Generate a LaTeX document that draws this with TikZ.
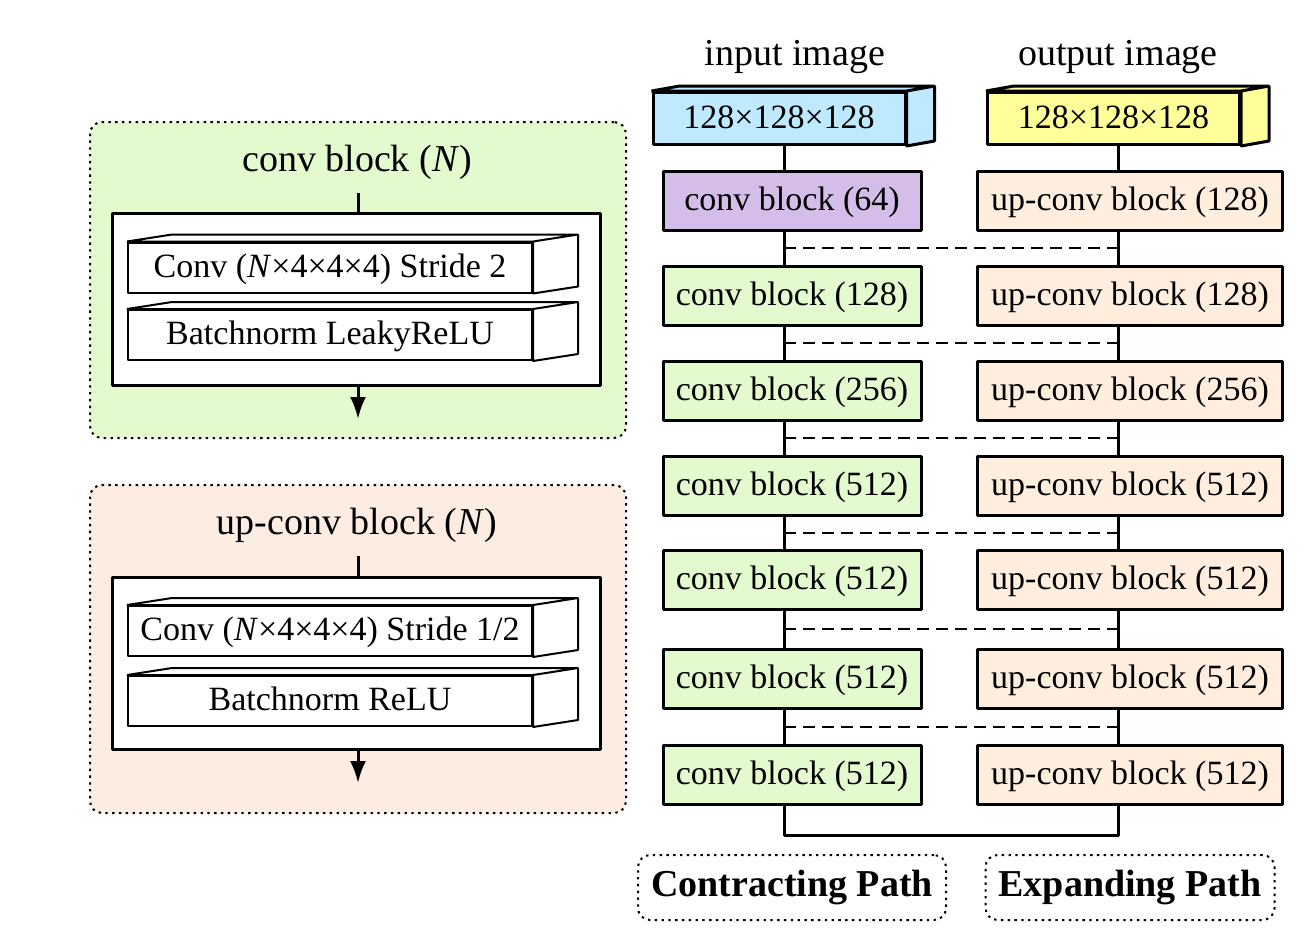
\documentclass[tikz,border=0pt]{standalone}
\usepackage{fontspec}
\setmainfont{Liberation Serif}
\usetikzlibrary{shapes, arrows, arrows.meta, positioning, calc}

\definecolor{inblue}{RGB}{190,233,255}
\definecolor{outyellow}{RGB}{255,255,153}
\definecolor{convpurple}{RGB}{213,189,233}
\definecolor{convgreen}{RGB}{226,250,205}
\definecolor{uppeach}{RGB}{255,238,222}
\definecolor{panelpeach}{RGB}{253,236,226}

\begin{document}
\begin{tikzpicture}[>={Latex[length=11pt,width=8pt]}, x=0.5pt, y=-0.5pt, line join=bevel]

\tikzstyle{block} = [draw, shape=rectangle, line width=1.5pt, minimum width=129pt, minimum height=29.5pt, inner sep=0pt, fill=convgreen, text height=12pt, text depth=2.5pt, font=\fontsize{17}{20}\selectfont]
\tikzstyle{upblock} = [block, minimum width=152.5pt, fill=uppeach]
\tikzstyle{imgbox} = [block, minimum width=126pt, minimum height=26pt]
\tikzstyle{layer} = [draw, shape=rectangle, line width=1pt, fill=white, minimum width=202pt, minimum height=25pt, inner sep=0pt, text height=12pt, text depth=2.5pt, font=\fontsize{17}{20}\selectfont]
\tikzstyle{wrap} = [draw, shape=rectangle, line width=1.5pt, fill=white, minimum width=244pt, minimum height=86pt]
\tikzstyle{panel} = [draw, rounded corners=6pt, dash pattern=on 1.2pt off 2.2pt, line width=1pt, inner sep=0pt]
\tikzstyle{pathlabel} = [panel, minimum height=32.5pt, font=\fontsize{19}{22}\selectfont\bfseries]
\tikzstyle{title} = [font=\fontsize{19}{22}\selectfont]
\tikzstyle{line} = [line width=1.5pt]
\tikzstyle{skip} = [line width=1pt, dash pattern=on 6pt off 3.5pt]

\useasboundingbox (0,0) rectangle (1310,949);

%Block Panels
\node [panel, fill=convgreen, minimum width=268pt, minimum height=158pt] (convpanel) at (358,280) {};
\node [title] (convtitle) at (357,162) {conv block (\textit{N})};
\node [wrap] (convwrap) at (356.5,299.5) {};
\node [layer] (cl1) at (330,267.5) {Conv (\textit{N}×4×4×4) Stride 2};
\node [layer] (cl2) at (330,335) {Batchnorm LeakyReLU};

\node [panel, fill=panelpeach, minimum width=268pt, minimum height=164pt] (uppanel) at (358,649) {};
\node [title] (uptitle) at (357,525) {up-conv block (\textit{N})};
\node [wrap] (upwrap) at (356.5,663.5) {};
\node [layer] (ul1) at (330,631) {Conv (\textit{N}×4×4×4) Stride 1/2};
\node [layer] (ul2) at (330,701) {Batchnorm ReLU};

%Layer Depth
\draw [line width=1pt, fill=white] (cl1.north west) -- ++(45,-7) -- ($(cl1.north east)+(45,-7)$) -- (cl1.north east) -- cycle (cl1.north east) -- ++(45,-7) -- ($(cl1.south east)+(45,-7)$) -- (cl1.south east) -- cycle;
\draw [line width=1pt, fill=white] (cl2.north west) -- ++(45,-7) -- ($(cl2.north east)+(45,-7)$) -- (cl2.north east) -- cycle (cl2.north east) -- ++(45,-7) -- ($(cl2.south east)+(45,-7)$) -- (cl2.south east) -- cycle;
\draw [line width=1pt, fill=white] (ul1.north west) -- ++(45,-7) -- ($(ul1.north east)+(45,-7)$) -- (ul1.north east) -- cycle (ul1.north east) -- ++(45,-7) -- ($(ul1.south east)+(45,-7)$) -- (ul1.south east) -- cycle;
\draw [line width=1pt, fill=white] (ul2.north west) -- ++(45,-7) -- ($(ul2.north east)+(45,-7)$) -- (ul2.north east) -- cycle (ul2.north east) -- ++(45,-7) -- ($(ul2.south east)+(45,-7)$) -- (ul2.south east) -- cycle;

%Panel Connections
\coordinate (convin) at (358,193);
\coordinate (convout) at (358,419);
\coordinate (upin) at (358,556);
\coordinate (upout) at (358,783);
\draw [line] (convin) -- (convin |- convwrap.north);
\draw [line, ->] (convout |- convwrap.south) -- (convout);
\draw [line] (upin) -- (upin |- upwrap.north);
\draw [line, ->] (upout |- upwrap.south) -- (upout);

%Creating U-Net Blocks
\node [title] (intitle) at (795,57) {input image};
\node [title] (outtitle) at (1118,57) {output image};
\node [imgbox, fill=inblue] (inbox) at (779,118.5) {128×128×128};
\node [imgbox, fill=outyellow] (outbox) at (1113.5,118.5) {128×128×128};
\draw [line, fill=inblue] (inbox.north west) -- ++(28,-5) -- ($(inbox.north east)+(28,-5)$) -- (inbox.north east) -- cycle (inbox.north east) -- ++(28,-5) -- ($(inbox.south east)+(28,-5)$) -- (inbox.south east) -- cycle;
\draw [line, fill=outyellow] (outbox.north west) -- ++(28,-5) -- ($(outbox.north east)+(28,-5)$) -- (outbox.north east) -- cycle (outbox.north east) -- ++(28,-5) -- ($(outbox.south east)+(28,-5)$) -- (outbox.south east) -- cycle;

\node [block, fill=convpurple] (c1) at (792,201) {conv block (64)};
\node [block] (c2) at (792,295.5) {conv block (128)};
\node [block] (c3) at (792,390.5) {conv block (256)};
\node [block] (c4) at (792,485.5) {conv block (512)};
\node [block] (c5) at (792,579.5) {conv block (512)};
\node [block] (c6) at (792,679) {conv block (512)};
\node [block] (c7) at (792,775) {conv block (512)};

\node [upblock, right=26.75pt of c1] (u1) {up-conv block (128)};
\node [upblock, right=26.75pt of c2] (u2) {up-conv block (128)};
\node [upblock, right=26.75pt of c3] (u3) {up-conv block (256)};
\node [upblock, right=26.75pt of c4] (u4) {up-conv block (512)};
\node [upblock, right=26.75pt of c5] (u5) {up-conv block (512)};
\node [upblock, right=26.75pt of c6] (u6) {up-conv block (512)};
\node [upblock, right=26.75pt of c7] (u7) {up-conv block (512)};

\node [pathlabel, minimum width=154pt, below=24pt of c7] (contract) {Contracting Path};
\node [pathlabel, minimum width=144.5pt, below=24pt of u7] (expand) {Expanding Path};

%Conecting Blocks
\coordinate (sl) at (784,0);
\coordinate (sr) at (1118,0);
\draw [line] (inbox.south -| sl) -- (c1.north -| sl) (c1.south -| sl) -- (c2.north -| sl) (c2.south -| sl) -- (c3.north -| sl) (c3.south -| sl) -- (c4.north -| sl) (c4.south -| sl) -- (c5.north -| sl) (c5.south -| sl) -- (c6.north -| sl) (c6.south -| sl) -- (c7.north -| sl);
\draw [line] (outbox.south -| sr) -- (u1.north -| sr) (u1.south -| sr) -- (u2.north -| sr) (u2.south -| sr) -- (u3.north -| sr) (u3.south -| sr) -- (u4.north -| sr) (u4.south -| sr) -- (u5.north -| sr) (u5.south -| sr) -- (u6.north -| sr) (u6.south -| sr) -- (u7.north -| sr);
\draw [line] (c7.south -| sl) -- ++(0,29) -| (u7.south -| sr);

%Skip Connections
\draw [skip] ($(c1.south -| sl)!0.5!(c2.north -| sl)$) -- ($(u1.south -| sr)!0.5!(u2.north -| sr)$);
\draw [skip] ($(c2.south -| sl)!0.5!(c3.north -| sl)$) -- ($(u2.south -| sr)!0.5!(u3.north -| sr)$);
\draw [skip] ($(c3.south -| sl)!0.5!(c4.north -| sl)$) -- ($(u3.south -| sr)!0.5!(u4.north -| sr)$);
\draw [skip] ($(c4.south -| sl)!0.5!(c5.north -| sl)$) -- ($(u4.south -| sr)!0.5!(u5.north -| sr)$);
\draw [skip] ($(c5.south -| sl)!0.5!(c6.north -| sl)$) -- ($(u5.south -| sr)!0.5!(u6.north -| sr)$);
\draw [skip] ($(c6.south -| sl)!0.5!(c7.north -| sl)$) -- ($(u6.south -| sr)!0.5!(u7.north -| sr)$);

\end{tikzpicture}
\end{document}
